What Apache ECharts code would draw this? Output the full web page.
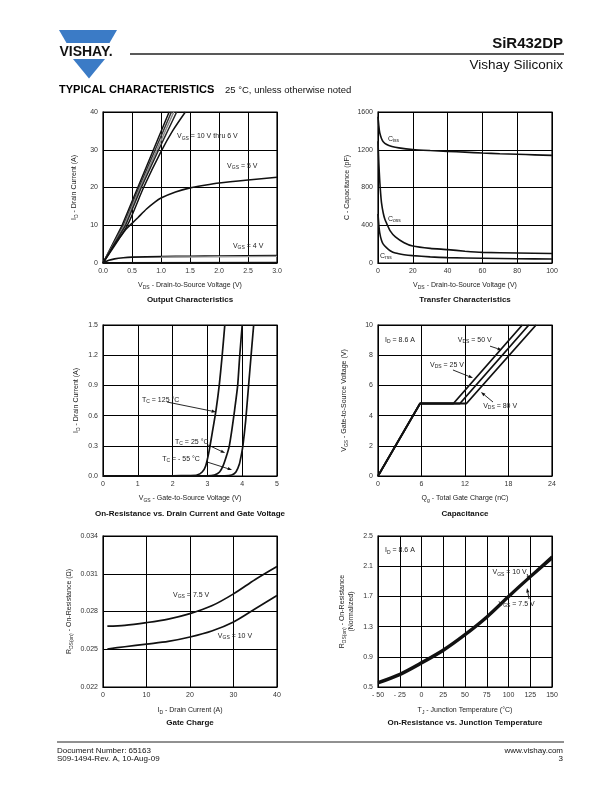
<!DOCTYPE html>
<html><head><meta charset="utf-8">
<script src="https://cdn.jsdelivr.net/npm/echarts@6/dist/echarts.min.js"></script>
<style>html,body{margin:0;padding:0;background:#fff}#c{width:612px;height:792px}</style>
</head><body><div id="c"></div>
<script>
// ---------------- DATA ----------------
// Chart 1: Output characteristics (ID vs VDS)
const outVgs10 = [[0,0],[0.33,10],[0.6,20],[0.87,30],[1.14,40]];
const outVgs9  = [[0,0],[0.35,10],[0.62,20],[0.9,30],[1.18,40]];
const outVgs8  = [[0,0],[0.37,10],[0.64,20],[0.93,30],[1.22,40]];
const outVgs7  = [[0,0],[0.39,10],[0.66,20],[0.96,30],[1.27,40]];
const outVgs6  = [[0,0],[0.42,10],[0.7,20],[1.0,29.5],[1.2,35],[1.42,40]];
const outVgs5  = [[0,0],[0.1,2.5],[0.2,5],[0.3,7],[0.4,9],[0.5,10.5],[0.6,12],[0.75,14.3],[0.9,16.2],[1.0,17.2],[1.25,18.8],[1.5,19.9],[1.75,20.6],[2.0,21.2],[2.5,22],[3.0,22.7]];
const outVgs4  = [[0,0],[0.1,0.7],[0.2,1.1],[0.35,1.4],[0.5,1.55],[1.0,1.7],[1.5,1.8],[2.0,1.85],[3.0,2.0]];
const outVgs4b = [[1.0,1.55],[1.5,1.6],[2.0,1.65],[3.0,1.75]];
const outVgs3  = [[0,0],[3.0,0.05]];

// Chart 2: Capacitance vs VDS
const capCiss = [[0,1550],[0.5,1450],[1,1380],[2,1320],[3,1285],[5,1255],[8,1235],[12,1220],[20,1203],[30,1192],[40,1183],[50,1175],[60,1165],[70,1158],[80,1152],[90,1146],[100,1140]];
const capCoss = [[0,1290],[0.5,1050],[1,870],[1.5,740],[2,640],[3,530],[4,460],[5,418],[7,340],[10,276],[15,215],[20,180],[30,155],[40,142],[50,125],[60,113],[80,106],[100,100]];
const capCrss = [[0,520],[0.5,400],[1,320],[2,240],[3,200],[5,160],[7,130],[10,105],[15,88],[20,78],[30,65],[40,57],[60,50],[80,45],[100,42]];

// Chart 3: Transfer (ID vs VGS)
const trT125 = [[0,0],[2.0,0.002],[2.5,0.005],[2.7,0.01],[2.85,0.04],[2.95,0.1],[3.05,0.25],[3.15,0.45],[3.25,0.66],[3.34,0.9],[3.42,1.18],[3.5,1.5]];
const trT25  = [[0,0],[3.0,0.002],[3.2,0.01],[3.35,0.04],[3.45,0.1],[3.55,0.2],[3.63,0.3],[3.7,0.45],[3.78,0.65],[3.87,0.9],[3.93,1.2],[4.0,1.5]];
const trTm55 = [[0,0],[3.5,0.002],[3.7,0.01],[3.82,0.04],[3.92,0.12],[3.97,0.2],[4.02,0.3],[4.1,0.55],[4.16,0.8],[4.22,1.05],[4.28,1.3],[4.33,1.5]];

// Chart 4: Gate charge (VGS vs Qg)
const gcA = [[0,0],[5.8,4.8],[10.4,4.8],[19.9,10]];
const gcB = [[0,0],[5.8,4.8],[11.3,4.8],[20.8,10]];
const gcC = [[0,0],[5.8,4.8],[12.2,4.8],[21.8,10]];

// Chart 5: RDS(on) vs ID
const rdsV75 = [[1,0.02683],[5,0.0269],[10,0.02712],[15,0.0274],[20,0.02783],[25,0.02845],[30,0.0294],[35,0.03055],[40,0.03158]];
const rdsV10 = [[1,0.02502],[5,0.0252],[10,0.02541],[15,0.02562],[20,0.02597],[25,0.02645],[30,0.02717],[35,0.02822],[40,0.02927]];

// Chart 6: normalized RDS(on) vs TJ
const tjV10 = [[-50,0.567],[-25,0.677],[0,0.83],[25,0.997],[50,1.203],[75,1.436],[100,1.707],[125,1.97],[150,2.23]];
const tjV75 = [[-50,0.547],[-25,0.657],[0,0.81],[25,0.977],[50,1.183],[75,1.416],[100,1.687],[125,1.95],[150,2.2]];

// Axis ranges [min, max, interval]
const axX = [[0,3,0.5],[0,100,20],[0,5,1],[0,24,6],[0,40,10],[-50,150,25]];
const axY = [[0,40,10],[0,1600,400],[0,1.5,0.3],[0,10,2],[0.022,0.034,0.003],[0.5,2.5,0.4]];

// ---------------- RENDER ----------------
const FONT = '"Liberation Sans", Arial, Helvetica, sans-serif';
const TXT = '#222';
const RICH = {
  n: {fontSize: 7, lineHeight: 9, color: TXT, fontFamily: FONT},
  s: {fontSize: 5, lineHeight: 9, padding: [4,0,0,0], color: TXT, fontFamily: FONT}
};
const chart = echarts.init(document.getElementById('c'), null, {width: 612, height: 792});

const gridPos = [[103,112],[378,112],[103,325],[378,325],[103,536],[378,536]];
const grids = gridPos.map(p => ({left: p[0], top: p[1], width: 174, height: 151, show: true,
  borderColor: '#000', borderWidth: 1.2, backgroundColor: 'rgba(0,0,0,0)', containLabel: false}));

const xFmt = [v => v.toFixed(1), v => String(v), v => String(v), v => String(v), v => String(v),
  v => v < 0 ? '- ' + Math.abs(v) : String(v)];
const yFmt = [v => String(v), v => String(v), v => v.toFixed(1), v => String(v), v => v.toFixed(3), v => v.toFixed(1)];

const xNames = [
  '{n|V}{s|DS}{n| - Drain-to-Source Voltage (V)}',
  '{n|V}{s|DS}{n| - Drain-to-Source Voltage (V)}',
  '{n|V}{s|GS}{n| - Gate-to-Source Voltage (V)}',
  '{n|Q}{s|g}{n| - Total Gate Charge (nC)}',
  '{n|I}{s|D}{n| - Drain Current (A)}',
  '{n|T}{s|J}{n| - Junction Temperature (°C)}'
];
const yNames = [
  '{n|I}{s|D}{n| - Drain Current (A)}',
  '{n|C - Capacitance (pF)}',
  '{n|I}{s|D}{n| - Drain Current (A)}',
  '{n|V}{s|GS}{n| - Gate-to-Source Voltage (V)}',
  '{n|R}{s|DS(on)}{n| - On-Resistance (Ω)}',
  '{n|R}{s|DS(on)}{n| - On-Resistance}\n{n|(Normalized)}'
];
const xGap = [18, 18, 18, 18, 19, 19];
const yGap = [24, 26, 22, 29, 29, 22];
const titles = ['Output Characteristics','Transfer Characteristics','On-Resistance vs. Drain Current and Gate Voltage',
  'Capacitance','Gate Charge','On-Resistance vs. Junction Temperature'];
const titleY = [300, 300, 514, 514, 723, 723];

const xAxes = axX.map((a, i) => ({
  type: 'value', gridIndex: i, min: a[0], max: a[1], interval: a[2],
  name: xNames[i], nameLocation: 'middle', nameGap: xGap[i],
  nameTextStyle: {rich: RICH, fontFamily: FONT, fontSize: 7, color: TXT},
  axisLine: {show: true, onZero: false, lineStyle: {color: '#000', width: 1}},
  axisTick: {show: false},
  axisLabel: {fontSize: 7, color: '#333', fontFamily: FONT, margin: 5, formatter: xFmt[i]},
  splitLine: {show: true, lineStyle: {color: '#000', width: 1}}
}));
const yAxes = axY.map((a, i) => ({
  type: 'value', gridIndex: i, min: a[0], max: a[1], interval: a[2],
  name: yNames[i], nameLocation: 'middle', nameGap: yGap[i], nameRotate: 90,
  nameTextStyle: {rich: RICH, fontFamily: FONT, fontSize: 7, color: TXT, lineHeight: 9},
  axisLine: {show: true, onZero: false, lineStyle: {color: '#000', width: 1}},
  axisTick: {show: false},
  axisLabel: {fontSize: 7, color: '#333', fontFamily: FONT, margin: 5, formatter: yFmt[i]},
  splitLine: {show: true, lineStyle: {color: '#000', width: 1}}
}));

function ser(i, data, color, width, smooth) {
  return {type: 'line', xAxisIndex: i, yAxisIndex: i, data: data, showSymbol: false, symbol: 'none',
    smooth: smooth || false, lineStyle: {color: color || '#111', width: width || 1.5},
    silent: true, animation: false, z: 3};
}
const series = [
  ser(0, outVgs10, '#111', 1.5), ser(0, outVgs9, '#333', 1.5), ser(0, outVgs8, '#888', 1.5),
  ser(0, outVgs7, '#222', 1.5), ser(0, outVgs6, '#111', 1.5, 0.25), ser(0, outVgs5, '#111', 1.6, 0.25),
  ser(0, outVgs4, '#111', 1.6, 0.25), ser(0, outVgs4b, '#999', 1.4, 0.25), ser(0, outVgs3, '#111', 2),
  ser(1, capCiss, '#111', 1.6, 0.2), ser(1, capCoss, '#111', 1.6, 0.2), ser(1, capCrss, '#111', 1.6, 0.2),
  ser(2, trT125, '#111', 1.7, 0.2), ser(2, trT25, '#111', 1.7, 0.2), ser(2, trTm55, '#111', 1.7, 0.2),
  ser(3, gcA, '#111', 1.8), ser(3, gcB, '#111', 1.8), ser(3, gcC, '#111', 1.8),
  ser(4, rdsV75, '#111', 1.7, 0.3), ser(4, rdsV10, '#111', 1.7, 0.3),
  ser(5, tjV10, '#111', 2.2, 0.3), ser(5, tjV75, '#111', 2.2, 0.3)
];

chart.setOption({animation: false, grid: grids, xAxis: xAxes, yAxis: yAxes, series: series});

// ---------------- ANNOTATIONS ----------------
const labels = [
  [0, 1.276, 33.6, '{n|V}{s|GS}{n| = 10 V thru 6 V}'],
  [0, 2.14, 25.7, '{n|V}{s|GS}{n| = 5 V}'],
  [0, 2.24, 4.5, '{n|V}{s|GS}{n| = 4 V}'],
  [1, 5.7, 1314, '{n|C}{s|iss}'],
  [1, 5.7, 466, '{n|C}{s|oss}'],
  [1, 1.1, 74, '{n|C}{s|rss}'],
  [2, 1.12, 0.755, '{n|T}{s|C}{n| = 125 °C}'],
  [2, 2.07, 0.338, '{n|T}{s|C}{n| = 25 °C}'],
  [2, 1.70, 0.169, '{n|T}{s|C}{n| = - 55 °C}'],
  [3, 0.97, 9.0, '{n|I}{s|D}{n| = 8.6 A}'],
  [3, 11.0, 9.0, '{n|V}{s|DS}{n| = 50 V}'],
  [3, 7.17, 7.35, '{n|V}{s|DS}{n| = 25 V}'],
  [3, 14.5, 4.64, '{n|V}{s|DS}{n| = 80 V}'],
  [4, 16.1, 0.02931, '{n|V}{s|GS}{n| = 7.5 V}'],
  [4, 26.4, 0.02605, '{n|V}{s|GS}{n| = 10 V}'],
  [5, -42, 2.31, '{n|I}{s|D}{n| = 8.6 A}'],
  [5, 81.6, 2.02, '{n|V}{s|GS}{n| = 10 V}'],
  [5, 88.5, 1.60, '{n|V}{s|GS}{n| = 7.5 V}']
];
const arrows = [
  [2, 1.84, 0.735, 3.25, 0.636],
  [2, 3.02, 0.308, 3.51, 0.228],
  [2, 2.99, 0.139, 3.71, 0.06],
  [3, 15.45, 8.6, 17.1, 8.34],
  [3, 10.34, 7.02, 13.1, 6.49],
  [3, 15.86, 4.9, 14.2, 5.56],
  [5, 121.3, 1.997, 124.7, 1.917],
  [5, 123.6, 1.666, 121.3, 1.811]
];

const G = [];
// header
const BLUE = '#3B7BC6';
G.push({type: 'polygon', shape: {points: [[59,30],[117,30],[109.5,43],[66.5,43]]}, style: {fill: BLUE}});
G.push({type: 'polygon', shape: {points: [[73,59],[105,59],[89,78.6]]}, style: {fill: BLUE}});
G.push({type: 'text', x: 86, y: 52,
  style: {text: 'VISHAY.', font: 'bold 14px ' + FONT, fill: '#111', align: 'center', verticalAlign: 'middle'}});
G.push({type: 'line', shape: {x1: 130, y1: 54, x2: 564, y2: 54}, style: {stroke: '#222', lineWidth: 1.3}});
G.push({type: 'text', x: 563, y: 44, style: {text: 'SiR432DP', font: 'bold 15px ' + FONT, fill: '#111', align: 'right', verticalAlign: 'middle'}});
G.push({type: 'text', x: 563, y: 65, style: {text: 'Vishay Siliconix', font: '13.5px ' + FONT, fill: '#111', align: 'right', verticalAlign: 'middle'}});
G.push({type: 'text', x: 59, y: 90, style: {text: 'TYPICAL CHARACTERISTICS', font: 'bold 11px ' + FONT, fill: '#000', align: 'left', verticalAlign: 'middle'}});
G.push({type: 'text', x: 225, y: 90, style: {text: '25 °C, unless otherwise noted', font: '9.5px ' + FONT, fill: '#111', align: 'left', verticalAlign: 'middle'}});
// footer
G.push({type: 'line', shape: {x1: 57, y1: 742, x2: 564, y2: 742}, style: {stroke: '#222', lineWidth: 1}});
G.push({type: 'text', x: 57, y: 750.5, style: {text: 'Document Number: 65163', font: '8px ' + FONT, fill: '#111', align: 'left', verticalAlign: 'middle'}});
G.push({type: 'text', x: 57, y: 759, style: {text: 'S09-1494-Rev. A, 10-Aug-09', font: '8px ' + FONT, fill: '#111', align: 'left', verticalAlign: 'middle'}});
G.push({type: 'text', x: 563, y: 750.5, style: {text: 'www.vishay.com', font: '8px ' + FONT, fill: '#111', align: 'right', verticalAlign: 'middle'}});
G.push({type: 'text', x: 563, y: 759, style: {text: '3', font: '8px ' + FONT, fill: '#111', align: 'right', verticalAlign: 'middle'}});
// chart titles
titles.forEach((t, i) => {
  G.push({type: 'text', x: gridPos[i][0] + 87, y: titleY[i],
    style: {text: t, font: 'bold 8px ' + FONT, fill: '#111', align: 'center', verticalAlign: 'middle'}});
});
// in-chart labels
labels.forEach(l => {
  const p = chart.convertToPixel({gridIndex: l[0]}, [l[1], l[2]]);
  G.push({type: 'text', x: p[0], y: p[1], z: 10,
    style: {text: l[3], rich: RICH, fill: TXT, align: 'left', verticalAlign: 'middle'}});
});
arrows.forEach(a => {
  const p1 = chart.convertToPixel({gridIndex: a[0]}, [a[1], a[2]]);
  const p2 = chart.convertToPixel({gridIndex: a[0]}, [a[3], a[4]]);
  const ang = Math.atan2(p2[1] - p1[1], p2[0] - p1[0]);
  const L = 4.5, W = 1.6;
  const bx = p2[0] - L * Math.cos(ang), by = p2[1] - L * Math.sin(ang);
  G.push({type: 'line', z: 10, shape: {x1: p1[0], y1: p1[1], x2: bx, y2: by}, style: {stroke: '#111', lineWidth: 0.9}});
  G.push({type: 'polygon', z: 10, shape: {points: [[p2[0], p2[1]],
    [bx + W * Math.sin(ang), by - W * Math.cos(ang)], [bx - W * Math.sin(ang), by + W * Math.cos(ang)]]},
    style: {fill: '#111'}});
});
chart.setOption({graphic: G});
</script></body></html>
